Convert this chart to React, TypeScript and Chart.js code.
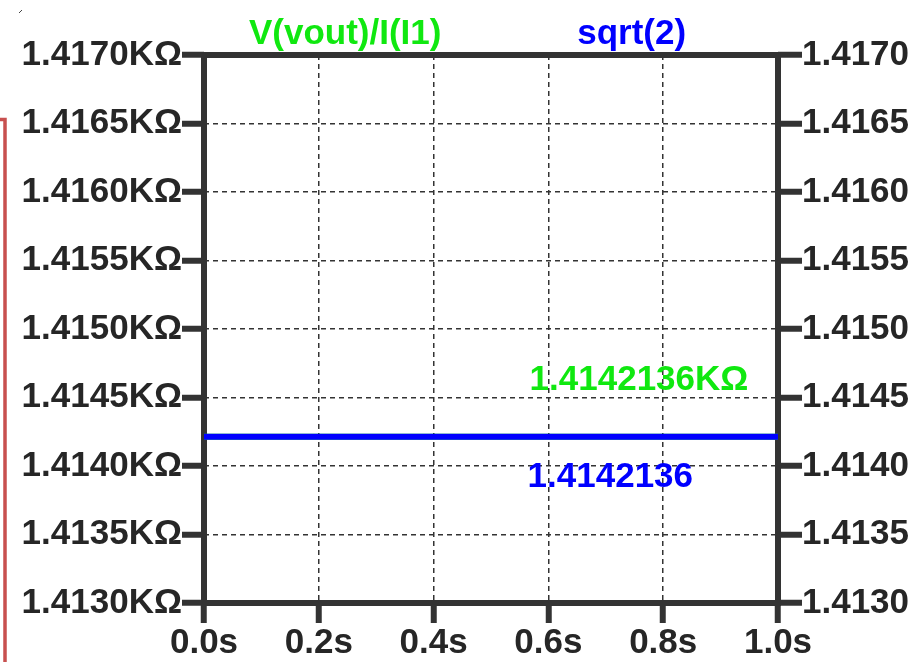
import React, { useEffect, useRef } from "react";
import { Chart, registerables } from "chart.js";

Chart.register(...registerables);

// ---- data ----
const timeSeconds = [0, 1];
const voutOverI1 = [1.4142136, 1.4142136];
const sqrtTwo = [1.4142136, 1.4142136];
const xTickValues = [0, 0.2, 0.4, 0.6, 0.8, 1.0];
const yTickValues = [1.413, 1.4135, 1.414, 1.4145, 1.415, 1.4155, 1.416, 1.4165, 1.417];
const traceNames = ["V(vout)/I(I1)", "sqrt(2)"];

// ---- styles ----
const FONT = "'Liberation Sans', Arial, sans-serif";
const GREEN = "#10e810";
const BLUE = "#0000ff";
const INK = "#262626";
const FRAME = "#333333";

const overlayPlugin = {
  id: "overlay",
  beforeDatasetsDraw(chart: any) {
    const { ctx, chartArea: a } = chart;
    ctx.save();
    ctx.strokeStyle = FRAME;
    ctx.lineWidth = 6;
    ctx.strokeRect(a.left, a.top, a.right - a.left, a.bottom - a.top);
    ctx.restore();
  },
  afterDraw(chart: any) {
    const { ctx, chartArea: a, scales } = chart;
    const w = a.right - a.left;
    ctx.save();
    ctx.font = `bold 35px ${FONT}`;
    ctx.textBaseline = "alphabetic";
    ctx.textAlign = "center";
    ctx.fillStyle = GREEN;
    ctx.fillText(traceNames[0], a.left + 0.246 * w, 44);
    ctx.fillStyle = BLUE;
    ctx.fillText(traceNames[1], a.left + 0.745 * w, 44);

    const y = scales.y.getPixelForValue(sqrtTwo[sqrtTwo.length - 1]);
    const ax = a.left + 0.5585 * w;
    ctx.textAlign = "left";
    ctx.fillStyle = GREEN;
    ctx.fillText(voutOverI1[voutOverI1.length - 1].toFixed(7) + "KΩ", ax + 5, y - 47);
    ctx.fillStyle = BLUE;
    ctx.fillText(sqrtTwo[sqrtTwo.length - 1].toFixed(7), ax + 3, y + 50);

    // red window edge at the far left
    ctx.strokeStyle = "#c8504f";
    ctx.lineWidth = 3.5;
    ctx.beginPath();
    ctx.moveTo(0, 119.5);
    ctx.lineTo(5, 119.5);
    ctx.lineTo(5, 662);
    ctx.stroke();

    // tiny mark top-left
    ctx.strokeStyle = "#444";
    ctx.lineWidth = 1;
    ctx.beginPath();
    ctx.moveTo(19, 13);
    ctx.lineTo(22, 10);
    ctx.stroke();
    ctx.restore();
  },
};

export default function App() {
  const canvasRef = useRef<HTMLCanvasElement | null>(null);

  useEffect(() => {
    const canvas = canvasRef.current;
    if (!canvas) return;
    const tickFont = { family: FONT, size: 35, weight: "bold" as const, lineHeight: 1 };

    const chart = new Chart(canvas, {
      type: "line",
      data: {
        datasets: [
          {
            label: traceNames[1],
            data: timeSeconds.map((t, i) => ({ x: t, y: sqrtTwo[i] })),
            borderColor: BLUE,
            borderWidth: 6,
            pointRadius: 0,
            yAxisID: "y",
          },
          {
            label: traceNames[0],
            data: timeSeconds.map((t, i) => ({ x: t, y: voutOverI1[i] })),
            borderColor: GREEN,
            borderWidth: 6,
            pointRadius: 0,
            yAxisID: "y",
          },
        ],
      },
      options: {
        responsive: false,
        animation: false,
        devicePixelRatio: 1,
        layout: { padding: { top: 55, left: 0, right: 0, bottom: 0 } },
        plugins: {
          legend: { display: false },
          tooltip: { enabled: false },
          title: { display: false },
        },
        scales: {
          x: {
            type: "linear",
            position: "bottom",
            min: 0,
            max: 1,
            afterBuildTicks: (s: any) => {
              s.ticks = xTickValues.map((v) => ({ value: v }));
            },
            afterFit: (s: any) => {
              s.height = 59;
            },
            ticks: {
              autoSkip: false,
              maxRotation: 0,
              padding: 3,
              color: INK,
              font: tickFont,
              callback: (v: any) => Number(v).toFixed(1) + "s",
            },
            grid: {
              color: FRAME,
              lineWidth: 1.5,
              tickLength: 20,
              tickWidth: 6,
              tickColor: FRAME,
              tickBorderDash: [],
            },
            border: { display: false, dash: [5, 4] },
          },
          y: {
            type: "linear",
            position: "left",
            min: 1.413,
            max: 1.417,
            afterBuildTicks: (s: any) => {
              s.ticks = yTickValues.map((v) => ({ value: v }));
            },
            afterFit: (s: any) => {
              s.width = 204;
            },
            ticks: {
              autoSkip: false,
              padding: 0,
              color: INK,
              font: tickFont,
              callback: (v: any) => Number(v).toFixed(4) + "KΩ",
            },
            grid: {
              color: FRAME,
              lineWidth: 1.5,
              tickLength: 22,
              tickWidth: 6,
              tickColor: FRAME,
              tickBorderDash: [],
            },
            border: { display: false, dash: [5, 4] },
          },
          y1: {
            type: "linear",
            position: "right",
            min: 1.413,
            max: 1.417,
            afterBuildTicks: (s: any) => {
              s.ticks = yTickValues.map((v) => ({ value: v }));
            },
            afterFit: (s: any) => {
              s.width = 139;
            },
            ticks: {
              autoSkip: false,
              padding: 0,
              color: INK,
              font: tickFont,
              callback: (v: any) => Number(v).toFixed(4),
            },
            grid: {
              drawOnChartArea: false,
              color: FRAME,
              lineWidth: 1.5,
              tickLength: 24,
              tickWidth: 6,
              tickColor: FRAME,
              tickBorderDash: [],
            },
            border: { display: false },
          },
        },
      },
      plugins: [overlayPlugin],
    } as any);

    return () => chart.destroy();
  }, []);

  return (
    <div style={{ position: "absolute", left: 0, top: 0, width: 917, height: 662, background: "#fff" }}>
      <canvas ref={canvasRef} width={917} height={662} style={{ display: "block" }} />
    </div>
  );
}
